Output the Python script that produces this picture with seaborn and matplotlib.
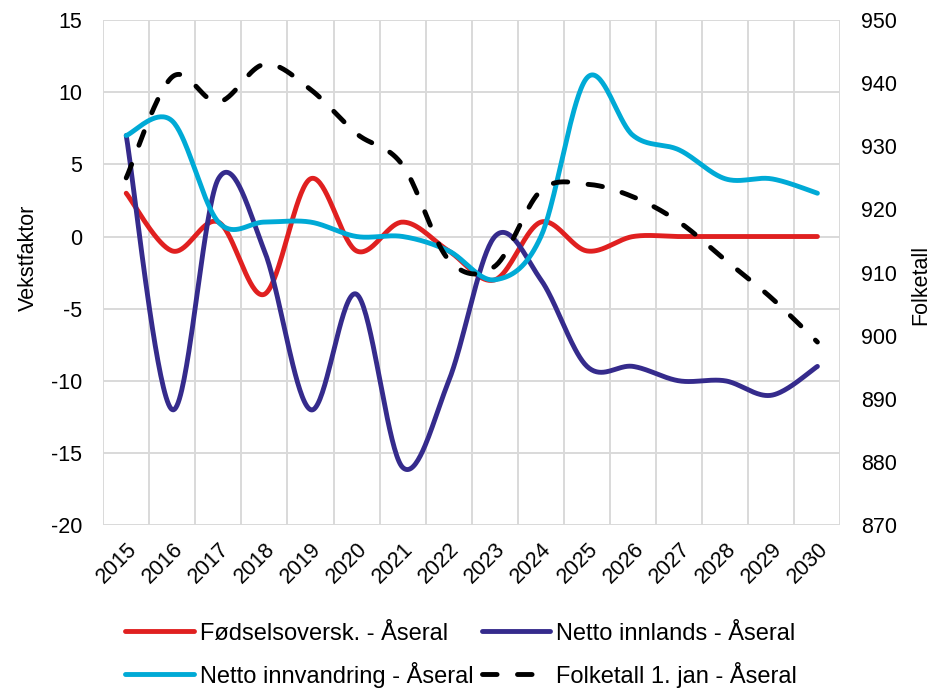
import numpy as np
import pandas as pd
import seaborn as sns
import matplotlib.pyplot as plt
from matplotlib.lines import Line2D

# data
years = [str(y) for y in range(2015, 2031)]
fodselsoverskudd = [3, -1, 1, -4, 4, -1, 1, -1, -3, 1, -1, 0, 0, 0, 0, 0]
netto_innlands = [7, -12, 4, -1, -12, -4, -16, -10, 0, -3, -9, -9, -10, -10, -11, -9]
netto_innvandring = [7, 8, 1, 1, 1, 0, 0, -1, -3, 0, 11, 7, 6, 4, 4, 3]
folketall = [925, 941, 937, 943, 939, 932, 927, 912, 911, 923, 924, 922, 918, 912, 906, 899]

left_ticks = list(range(-20, 16, 5))
right_ticks = list(range(870, 951, 10))

RED = '#e02020'
NAVY = '#352b8c'
CYAN = '#00aad6'


def smooth(values, n=40):
    # Excel-style smoothed line: Catmull-Rom segments as cubic Bezier
    p = np.column_stack([np.arange(len(values)), np.asarray(values, float)])
    pts = np.vstack([p[0], p, p[-1]])
    out = []
    for i in range(1, len(pts) - 2):
        p0, p1, p2, p3 = pts[i - 1], pts[i], pts[i + 1], pts[i + 2]
        c1 = p1 + (p2 - p0) / 6
        c2 = p2 - (p3 - p1) / 6
        t = np.linspace(0, 1, n)[:, None]
        seg = ((1 - t) ** 3) * p1 + 3 * ((1 - t) ** 2) * t * c1 + 3 * (1 - t) * t ** 2 * c2 + t ** 3 * p2
        out.append(seg if i == 1 else seg[1:])
    seg = np.vstack(out)
    return pd.DataFrame({'x': seg[:, 0], 'y': seg[:, 1]})


sns.set_theme(style='white')
plt.rcParams['font.family'] = ['Liberation Sans', 'DejaVu Sans']
for key in ('text.color', 'axes.labelcolor', 'xtick.color', 'ytick.color'):
    plt.rcParams[key] = 'black'

fig = plt.figure(figsize=(9.38, 6.91), dpi=100)
ax = fig.add_axes([0.110, 0.240, 0.786, 0.731])
ax2 = ax.twinx()

lw = 3.5
dash = (3.0, 4.2)
sns.lineplot(data=smooth(netto_innvandring), x='x', y='y', ax=ax, sort=False,
             color=CYAN, lw=lw, solid_capstyle='round', zorder=3)
sns.lineplot(data=smooth(netto_innlands), x='x', y='y', ax=ax, sort=False,
             color=NAVY, lw=lw, solid_capstyle='round', zorder=2)
sns.lineplot(data=smooth(fodselsoverskudd), x='x', y='y', ax=ax, sort=False,
             color=RED, lw=lw, solid_capstyle='round', zorder=1)
sns.lineplot(data=smooth(folketall), x='x', y='y', ax=ax2, sort=False,
             color='black', lw=lw, dashes=dash, dash_capstyle='round')

ax.set_xlim(-0.5, len(years) - 0.5)
ax.set_ylim(-20, 15)
ax2.set_ylim(870, 950)
ax.set_xticks(range(len(years)))
ax.set_xticklabels(years, rotation=45, ha='right', rotation_mode='anchor', fontsize=15.5)
ax.set_xticks(np.arange(-0.5, len(years), 1), minor=True)
ax.set_yticks(left_ticks)
ax.set_yticklabels([str(v) for v in left_ticks], fontsize=15.5)
ax2.set_yticks(right_ticks)
ax2.set_yticklabels([str(v) for v in right_ticks], fontsize=15.5)

ax.grid(False)
ax.grid(axis='y', which='major', color='#d9d9d9', lw=1.4)
ax.grid(axis='x', which='minor', color='#d9d9d9', lw=1.4)
ax.tick_params(axis='x', which='both', length=0, pad=10)
ax.tick_params(axis='y', length=0, pad=15)
ax2.tick_params(axis='y', length=0, pad=15)
for a in (ax, ax2):
    for s in a.spines.values():
        s.set_visible(False)

ax.set_xlabel('')
ax.set_ylabel('Vekstfaktor', fontsize=15.5, labelpad=9)
ax2.set_ylabel('Folketall', fontsize=15.5, labelpad=9)
ax.yaxis.label.set_y(0.53)
ax2.yaxis.label.set_y(0.475)

# legend fills column by column: red, cyan | navy, black
handles = [
    Line2D([], [], color=RED, lw=lw, solid_capstyle='round'),
    Line2D([], [], color=CYAN, lw=lw, solid_capstyle='round'),
    Line2D([], [], color=NAVY, lw=lw, solid_capstyle='round'),
    Line2D([], [], color='black', lw=lw, dashes=dash, dash_capstyle='round'),
]
labels = ['Fødselsoversk. - Åseral', 'Netto innvandring - Åseral',
          'Netto innlands - Åseral', 'Folketall 1. jan - Åseral']
fig.legend(handles, labels, ncol=2, loc='center', bbox_to_anchor=(461 / 938, 1 - 655 / 691),
           frameon=False, fontsize=17, handlelength=2.9, handletextpad=0.25,
           columnspacing=0.35, labelspacing=0.72)

fig.savefig('out.png', dpi=100)
